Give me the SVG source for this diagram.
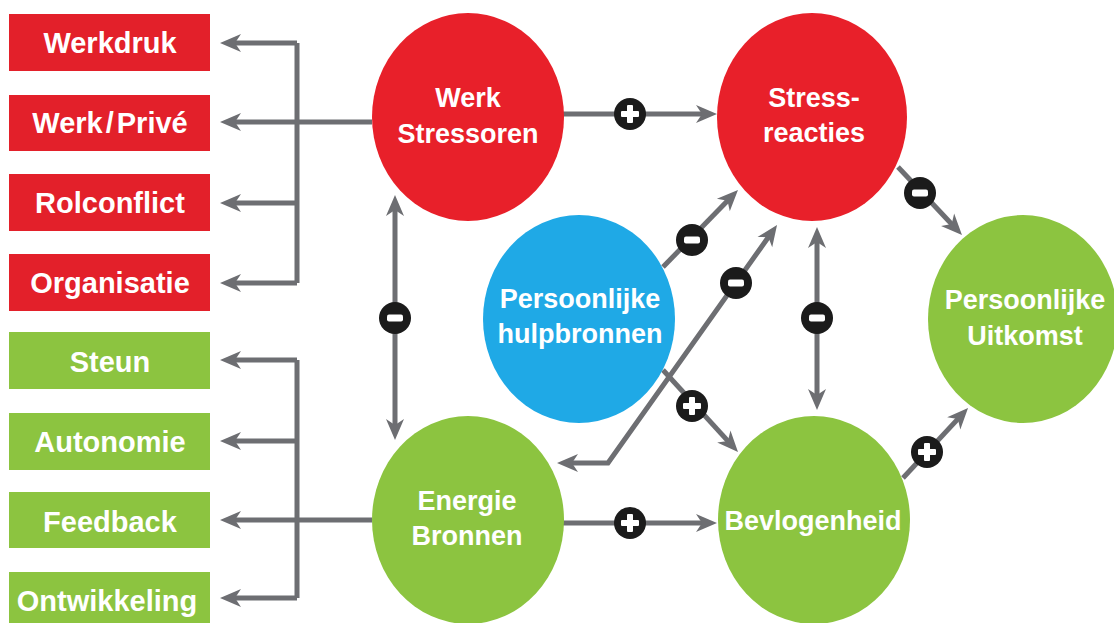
<svg xmlns="http://www.w3.org/2000/svg" xmlns:xlink="http://www.w3.org/1999/xlink" width="1114" height="623" viewBox="0 0 1114 623">
<style>
.box-r{fill:#e3202a}
.box-g{fill:#8cc440}
.c-r{fill:#e8202a}
.c-g{fill:#8cc440}
.c-b{fill:#1fa9e6}
.bt{font-family:"Liberation Sans",Arial,sans-serif;font-weight:bold;font-size:29px;fill:#fff;text-anchor:middle}
.ct{font-family:"Liberation Sans",Arial,sans-serif;font-weight:bold;font-size:27px;fill:#fff;text-anchor:middle}
.ln{fill:none;stroke:#6d6e72;stroke-width:5}
</style>
<defs>
<marker id="ah" viewBox="-14 -10 23 20" refX="0" refY="0" markerWidth="23" markerHeight="20" markerUnits="userSpaceOnUse" orient="auto-start-reverse">
<path d="M8,0 L-13,-9 L-7,0 L-13,9 Z" fill="#6d6e72"/>
</marker>
<g id="plus"><circle r="16" fill="#1b1b1b"/><rect x="-9" y="-3" width="18" height="6" rx="1" fill="#fff"/><rect x="-3" y="-9" width="6" height="18" rx="1" fill="#fff"/></g>
<g id="minus"><circle r="16" fill="#1b1b1b"/><rect x="-8" y="-3.5" width="16" height="7" rx="2" fill="#fff"/></g>
</defs>

<g id="connectors">
<path class="ln" d="M372,122 H228" marker-end="url(#ah)"/>
<path class="ln" d="M297,43 V283"/>
<path class="ln" d="M297,43 H228" marker-end="url(#ah)"/>
<path class="ln" d="M297,203 H228" marker-end="url(#ah)"/>
<path class="ln" d="M297,283 H228" marker-end="url(#ah)"/>
<path class="ln" d="M372,520 H228" marker-end="url(#ah)"/>
<path class="ln" d="M297,360 V598"/>
<path class="ln" d="M297,360 H228" marker-end="url(#ah)"/>
<path class="ln" d="M297,441 H228" marker-end="url(#ah)"/>
<path class="ln" d="M297,598 H228" marker-end="url(#ah)"/>
<path class="ln" d="M563,114 H709" marker-end="url(#ah)"/>
<path class="ln" d="M395,203 V432" marker-start="url(#ah)" marker-end="url(#ah)"/>
<path class="ln" d="M663,267 L732.4,195.7" marker-end="url(#ah)"/>
<path class="ln" d="M565,463 H608 L772.4,231.5" marker-start="url(#ah)" marker-end="url(#ah)"/>
<path class="ln" d="M663,370 L732.6,446.1" marker-end="url(#ah)"/>
<path class="ln" d="M817,235 V402" marker-start="url(#ah)" marker-end="url(#ah)"/>
<path class="ln" d="M898,167 L956.5,229.2" marker-end="url(#ah)"/>
<path class="ln" d="M903,478 L962.6,413.9" marker-end="url(#ah)"/>
<path class="ln" d="M563,523 H709" marker-end="url(#ah)"/>
<use xlink:href="#plus" href="#plus" x="630" y="114"/>
<use xlink:href="#minus" href="#minus" x="395" y="318"/>
<use xlink:href="#minus" href="#minus" x="692" y="240"/>
<use xlink:href="#minus" href="#minus" x="736" y="283"/>
<use xlink:href="#plus" href="#plus" x="692" y="406"/>
<use xlink:href="#minus" href="#minus" x="817" y="318"/>
<use xlink:href="#minus" href="#minus" x="920" y="193"/>
<use xlink:href="#plus" href="#plus" x="927" y="452"/>
<use xlink:href="#plus" href="#plus" x="630" y="523"/>
</g>

<g id="werkdruk"><rect class="box-r" x="9" y="14" width="201" height="57"/><text class="bt" x="110" y="53">Werkdruk</text></g>
<g id="werkprive"><rect class="box-r" x="9" y="95" width="201" height="56"/><text class="bt" x="110" y="133">Werk<tspan dx="3">/</tspan><tspan dx="3">Privé</tspan></text></g>
<g id="rolconflict"><rect class="box-r" x="9" y="174" width="201" height="57"/><text class="bt" x="110" y="213">Rolconflict</text></g>
<g id="organisatie"><rect class="box-r" x="9" y="254" width="201" height="57"/><text class="bt" x="110" y="293">Organisatie</text></g>
<g id="steun"><rect class="box-g" x="9" y="332" width="201" height="57"/><text class="bt" x="110" y="372">Steun</text></g>
<g id="autonomie"><rect class="box-g" x="9" y="413" width="201" height="57"/><text class="bt" x="110" y="452">Autonomie</text></g>
<g id="feedback"><rect class="box-g" x="9" y="492" width="201" height="56"/><text class="bt" x="110" y="532">Feedback</text></g>
<g id="ontwikkeling"><rect class="box-g" x="9" y="572" width="201" height="51"/><text class="bt" x="107" y="611">Ontwikkeling</text></g>

<g id="werk-stressoren"><ellipse class="c-r" cx="468" cy="117" rx="96" ry="104"/><text class="ct" x="468" y="107">Werk</text><text class="ct" x="468" y="143">Stressoren</text></g>
<g id="stress-reacties"><ellipse class="c-r" cx="812" cy="117" rx="95" ry="104"/><text class="ct" x="814" y="107">Stress-</text><text class="ct" x="814" y="142">reacties</text></g>
<g id="persoonlijke-hulpbronnen"><ellipse class="c-b" cx="579" cy="319" rx="96" ry="104"/><text class="ct" x="580" y="308">Persoonlijke</text><text class="ct" x="580" y="343">hulpbronnen</text></g>
<g id="persoonlijke-uitkomst"><ellipse class="c-g" cx="1023" cy="319" rx="95" ry="104"/><text class="ct" x="1025" y="309">Persoonlijke</text><text class="ct" x="1025" y="345">Uitkomst</text></g>
<g id="energie-bronnen"><ellipse class="c-g" cx="468" cy="520" rx="96" ry="104"/><text class="ct" x="467" y="510">Energie</text><text class="ct" x="467" y="545">Bronnen</text></g>
<g id="bevlogenheid"><ellipse class="c-g" cx="814" cy="520" rx="96" ry="104"/><text class="ct" x="813" y="530">Bevlogenheid</text></g>
</svg>
